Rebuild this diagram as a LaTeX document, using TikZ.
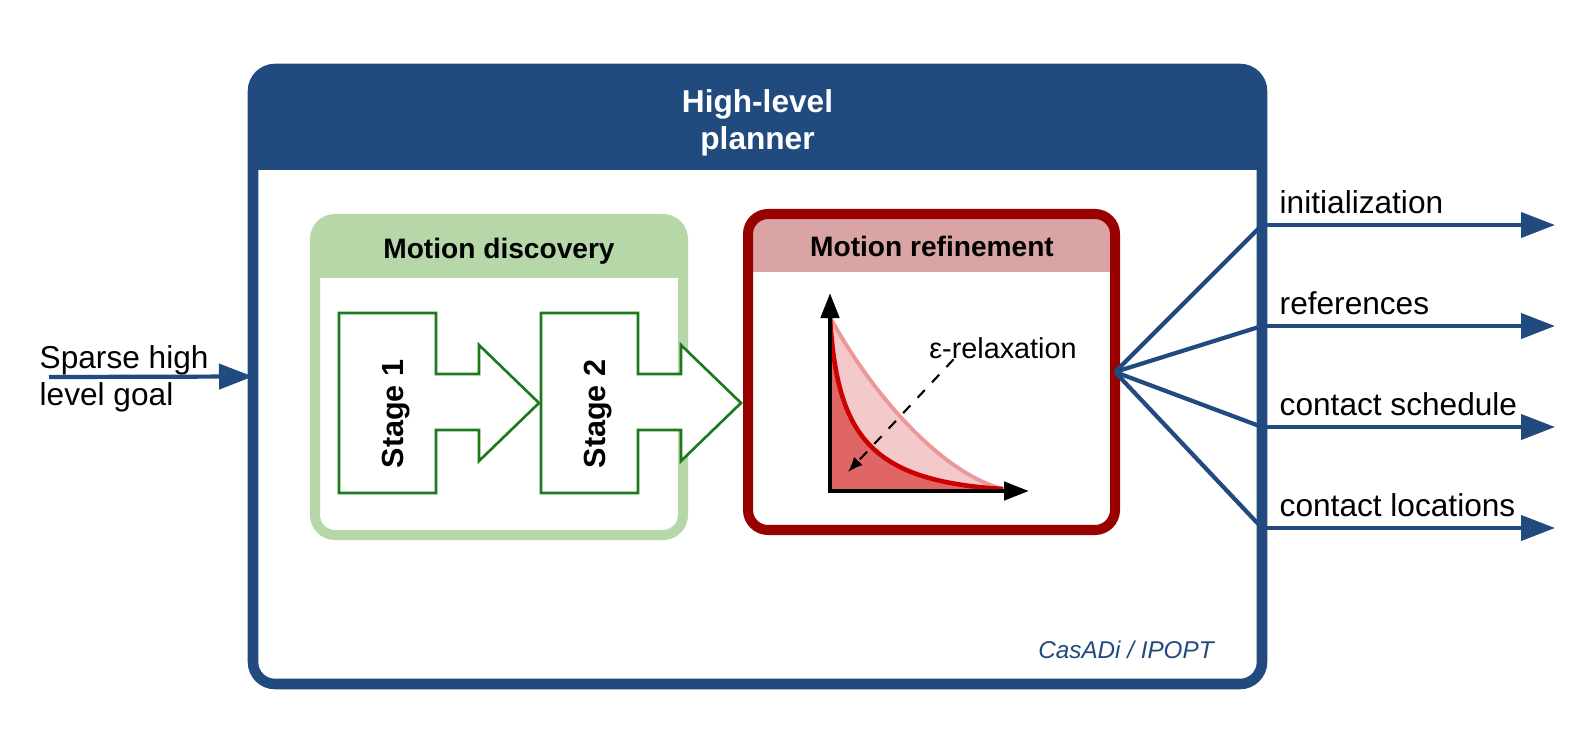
\documentclass[tikz,border=0pt]{standalone}
\usepackage{fontspec}
\setmainfont{Liberation Sans}
\usepackage{xcolor}
\usepackage{tikz}
\usetikzlibrary{arrows.meta,calc}
\definecolor{planblue}{RGB}{33,74,126}
\definecolor{discgreen}{RGB}{182,215,168}
\definecolor{stagegreen}{RGB}{28,122,28}
\definecolor{refred}{RGB}{153,0,0}
\definecolor{refpink}{RGB}{218,164,164}
\definecolor{curvelight}{RGB}{244,201,201}
\definecolor{curvelightline}{RGB}{236,152,152}
\definecolor{curvedark}{RGB}{224,102,102}
\definecolor{curveline}{RGB}{204,0,0}
\pgfkeys{tikz/mypanel/.style={rounded corners=0.2cm,inner sep=0pt,outer sep=0pt,line width=2.85pt}}
\pgfkeys{tikz/mypanelbody/.style={path picture={\fill[white,sharp corners] (path picture bounding box.south west) rectangle ([yshift=-#1]path picture bounding box.north east);}}}
\pgfkeys{tikz/myflow/.style={draw=planblue,line width=1.2pt,-{Triangle[length=0.34cm,width=0.25cm]}}}
\pgfkeys{tikz/mystagepath/.style={draw=stagegreen,fill=white,line width=0.75pt}}
\pgfkeys{tikz/myaxis/.style={line width=1.3pt,{Triangle[length=0.25cm,width=0.18cm]}-{Triangle[length=0.25cm,width=0.18cm]}}}
\newcommand\myfontnine{\fontsize{9}{10.5}\selectfont}
\newcommand\myfonthead{\fontsize{8}{9.5}\selectfont\bfseries}
\newcommand*\mystage[3]{
    \draw[mystagepath] (#1,4.28) -- ++(0.97,0) -- ++(0,-0.61) -- ++(0.43,0) -- ++(0,0.29)
        -- ++(0.60,-0.58) -- ++(-0.60,-0.58) -- ++(0,0.31) -- ++(-0.43,0) -- ++(0,-0.63) -- ++(-0.97,0) -- cycle;
    \node[rotate=90,inner sep=0pt,font=\fontsize{8.7}{10}\selectfont\bfseries] (#2) at ({#1+0.57},3.27) {#3};
}

\begin{document}
\begin{tikzpicture}
    \useasboundingbox (0,0) rectangle (15.82,7.41);
    % planner frame
    \node[mypanel,rounded corners=0.22cm,line width=3pt,draw=planblue,fill=planblue,mypanelbody=1.01cm,
        minimum width=10.09cm,minimum height=6.15cm] (planner) at (7.575,3.645) {};
    \node[text=white,align=center,font=\myfontnine\bfseries] (title) at (7.575,6.185) {High-level\\planner};
    \node[text=planblue,font=\fontsize{6.9}{8}\selectfont\itshape] (solver) at (11.26,0.91) {CasADi / IPOPT};
    % motion discovery
    \node[mypanel,draw=discgreen,fill=discgreen,mypanelbody=0.59cm,
        minimum width=3.68cm,minimum height=3.16cm] (discovery) at (4.99,3.64) {};
    \node[font=\myfonthead] (disctitle) at (4.99,4.90) {Motion discovery};
    \mystage{3.39}{stage1}{Stage 1}
    % motion refinement
    \node[mypanel,draw=refred,fill=refpink,mypanelbody=0.58cm,
        minimum width=3.67cm,minimum height=3.16cm] (refinement) at (9.315,3.69) {};
    \node[font=\myfonthead] (reftitle) at (9.32,4.95) {Motion refinement};
    \mystage{5.41}{stage2}{Stage 2}
    \fill[curvelight] (8.30,2.50) -- (8.30,4.24) .. controls (8.70,3.50) and (9.40,2.68) .. (10.03,2.52) -- cycle;
    \draw[curvelightline,line width=1.1pt] (8.30,4.24) .. controls (8.70,3.50) and (9.40,2.68) .. (10.03,2.52);
    \fill[curvedark] (8.30,2.50) -- (8.30,4.24) .. controls (8.37,3.05) and (8.70,2.60) .. (10.03,2.52) -- cycle;
    \draw[curveline,line width=1.3pt] (8.30,4.24) .. controls (8.37,3.05) and (8.70,2.60) .. (10.03,2.52);
    \draw[myaxis] (8.30,4.48) |- (10.29,2.50);
    \node[font=\fontsize{8.2}{9.5}\selectfont,inner sep=0pt] (eps) at (10.03,3.93) {ε-relaxation};
    \coordinate (epstip) at (8.48,2.69);
    \draw[dashed,line width=0.6pt,-{Latex[length=0.15cm,width=0.12cm]}] ([xshift=0.25cm]eps.south west) -- (epstip);
    % input
    \node[font=\myfontnine,align=left,inner sep=0pt,anchor=west] (goal) at (0.39,3.62) {Sparse high\\level goal};
    \coordinate (goalstart) at (0.49,3.64);
    \draw[myflow] (goalstart) -- (planner.west);
    % outputs
    \foreach \y/\txt [count=\i] in {5.16/initialization,4.15/references,3.14/contact schedule,2.13/contact locations}{
        \coordinate (tap\i) at (12.62,\y);
        \coordinate (out\i) at (15.55,\y);
        \draw[planblue,line width=1.2pt] (refinement.east) -- (tap\i);
        \draw[myflow] (tap\i) -- (out\i);
        \node[font=\myfontnine,inner sep=0pt,anchor=base west] (label\i) at ([xshift=0.17cm,yshift=0.12cm]tap\i) {\txt};
    }
\end{tikzpicture}
\end{document}
